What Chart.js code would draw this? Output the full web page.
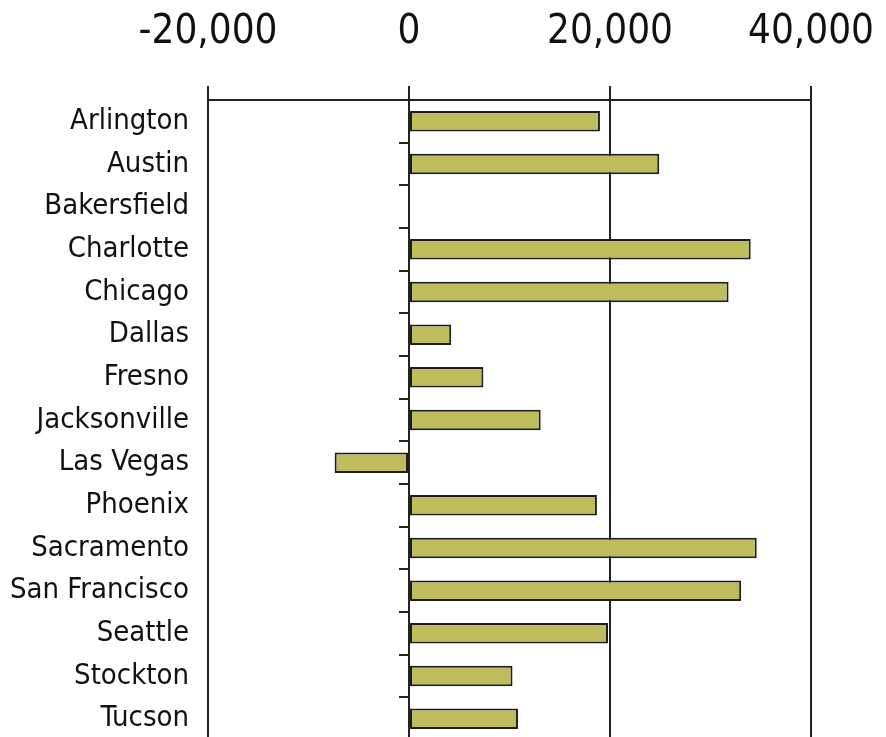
<!DOCTYPE html>
<html lang="en">
<head>
  <meta charset="UTF-8">
  <title>Cities</title>
  <script src="https://cdn.jsdelivr.net/npm/chart.js"></script>
  <style>
    html, body { margin: 0; padding: 0; background: #fff; overflow: hidden; }
    #wrap { position: relative; width: 886px; height: 740px; }
  </style>
</head>
<body>
  <div id="wrap"><canvas id="myChart"></canvas></div>

  <script>
    const cities = ['Arlington', 'Austin', 'Bakersfield', 'Charlotte', 'Chicago', 'Dallas', 'Fresno',
      'Jacksonville', 'Las Vegas', 'Phoenix', 'Sacramento', 'San Francisco', 'Seattle', 'Stockton', 'Tucson'];
    const values = [19000, 24900, null, 34000, 31800, 4200, 7400,
      13100, -7400, 18700, 34600, 33050, 19800, 10300, 10850];
    const xTicks = [-20000, 0, 20000, 40000];

    const FONT = "'DejaVu Sans Condensed', 'Liberation Sans Narrow', sans-serif";
    const LINE = '#222';

    const ctx = document.getElementById('myChart').getContext('2d');
    const myChart = new Chart(ctx, {
      type: 'bar',
      data: {
        labels: cities,
        datasets: [{
          data: values,
          backgroundColor: '#bebc5c',
          borderColor: '#1e1e1e',
          borderWidth: 2,
          borderSkipped: false,
          categoryPercentage: 1,
          barPercentage: 0.48
        }]
      },
      options: {
        indexAxis: 'y',
        responsive: true,
        maintainAspectRatio: false,
        animation: false,
        layout: { padding: { top: 0, right: 75, bottom: 0, left: 0 } },
        plugins: { legend: { display: false }, tooltip: { enabled: false } },
        scales: {
          x: {
            position: 'top',
            min: -20000,
            max: 40000,
            afterBuildTicks: (s) => { s.ticks = xTicks.map(v => ({ value: v })); },
            afterFit: (s) => {
              // fixed band above the plot; labels may hang past the edges
              s.height = 100;
              s.paddingLeft = 0;
              s.paddingRight = 0;
            },
            border: { display: true, color: LINE, width: 2 },
            grid: { color: LINE, lineWidth: 2, tickLength: 14 },
            ticks: {
              padding: 29,
              color: '#111',
              font: { family: FONT, size: 40 },
              callback: (v) => v.toLocaleString('en-US')
            }
          },
          y: {
            afterFit: (s) => {
              s.width = 208;
              s.paddingTop = 0;
              s.paddingBottom = 0;
            },
            border: { display: false },
            grid: { display: false },
            ticks: {
              padding: 11,
              color: '#111',
              font: { family: FONT, size: 29 }
            }
          },
          y2: {
            axis: 'y',
            type: 'category',
            position: { x: 0 },
            offset: true,
            border: { display: false },
            grid: { offset: true, drawOnChartArea: false, drawTicks: true, tickLength: 10, color: LINE, lineWidth: 2 },
            ticks: { display: false }
          }
        }
      }
    });
  </script>
</body>
</html>
